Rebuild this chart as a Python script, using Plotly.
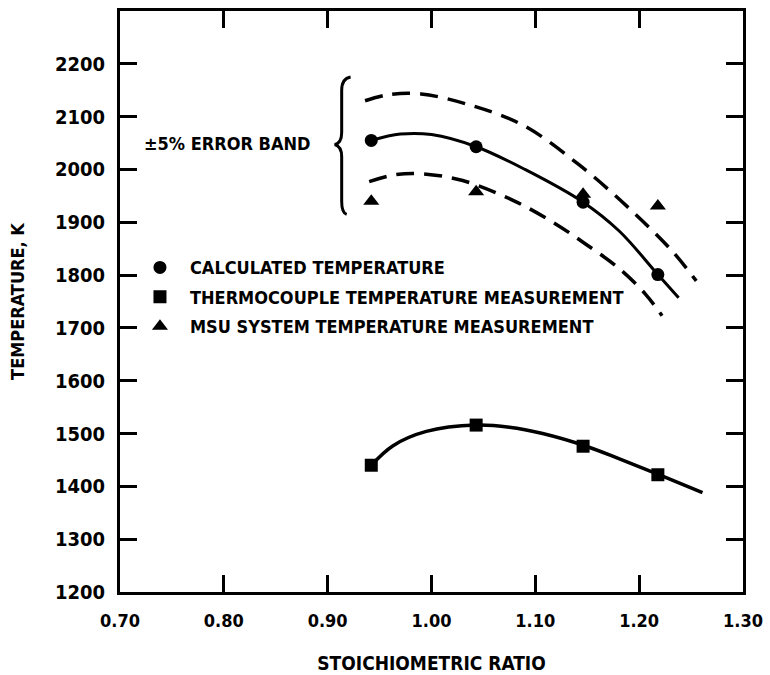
import plotly.graph_objects as go

# Measured / calculated points at each stoichiometric ratio
ratio = [0.942, 1.043, 1.146, 1.218]
calc_temp = [2055, 2043, 1938, 1801]
thermo_temp = [1440, 1516, 1476, 1422]
msu_temp = [1940, 1958, 1953, 1931]

# Faired curve through the calculated temperatures
calc_curve_x = [0.942, 0.970, 1.000, 1.043, 1.090, 1.146, 1.181, 1.218, 1.238]
calc_curve_y = [2055, 2067, 2066, 2043, 2000, 1938, 1883, 1801, 1757]

# +5 % band
upper_x = [0.936, 0.960, 0.990, 1.037, 1.088, 1.142, 1.190, 1.232, 1.255]
upper_y = [2130, 2142, 2143, 2122, 2084, 2009, 1927, 1845, 1789]

# -5 % band
lower_x = [0.940, 0.965, 0.990, 1.030, 1.078, 1.117, 1.149, 1.181, 1.206, 1.222]
lower_y = [1977, 1990, 1992, 1979, 1942, 1900, 1858, 1812, 1764, 1723]

# Faired curve through the thermocouple readings
thermo_curve_x = [0.942, 0.963, 0.995, 1.043, 1.075, 1.107, 1.149, 1.181, 1.219, 1.261]
thermo_curve_y = [1440, 1477, 1504, 1516, 1512, 1500, 1476, 1452, 1422, 1388]

x_ticks = [0.70, 0.80, 0.90, 1.00, 1.10, 1.20, 1.30]
x_tick_text = ["0.70", "0.80", "0.90", "1.00", "1.10", "1.20", "1.30"]
y_ticks = [1200, 1300, 1400, 1500, 1600, 1700, 1800, 1900, 2000, 2100, 2200]
y_tick_text = [str(v) for v in y_ticks]

FONT = "DejaVu Sans Condensed, Liberation Sans Narrow, DejaVu Sans, sans-serif"
INK = "black"

fig = go.Figure()

fig.add_trace(go.Scatter(x=upper_x, y=upper_y, mode="lines", showlegend=False,
                         line=dict(color=INK, width=3.5, dash="18px,10px", shape="spline")))
fig.add_trace(go.Scatter(x=lower_x, y=lower_y, mode="lines", showlegend=False,
                         line=dict(color=INK, width=3.5, dash="18px,10px", shape="spline")))
fig.add_trace(go.Scatter(x=calc_curve_x, y=calc_curve_y, mode="lines", showlegend=False,
                         line=dict(color=INK, width=3, shape="spline")))
fig.add_trace(go.Scatter(x=thermo_curve_x, y=thermo_curve_y, mode="lines", showlegend=False,
                         line=dict(color=INK, width=3.5, shape="spline")))

fig.add_trace(go.Scatter(x=ratio, y=calc_temp, mode="markers", name="CALCULATED TEMPERATURE",
                         legendgroup="a",
                         marker=dict(symbol="circle", size=13, color=INK)))
fig.add_trace(go.Scatter(x=ratio, y=thermo_temp, mode="markers",
                         name="THERMOCOUPLE TEMPERATURE MEASUREMENT", legendgroup="b",
                         marker=dict(symbol="square", size=13, color=INK)))
fig.add_trace(go.Scatter(x=ratio, y=msu_temp, mode="markers",
                         name="MSU SYSTEM TEMPERATURE MEASUREMENT", legendgroup="c",
                         marker=dict(symbol="triangle-up", size=14, color=INK)))

# Brace grouping the error band
fig.add_shape(type="path", xref="x", yref="y",
              path=("M 0.9221,2175 Q 0.9135,2172 0.9135,2150 L 0.9135,2070 "
                    "Q 0.9135,2050 0.9067,2047 Q 0.9135,2044 0.9135,2024 "
                    "L 0.9135,1940 Q 0.9135,1918 0.9183,1915"),
              line=dict(color=INK, width=3))

fig.add_annotation(x=0.308, xref="paper", y=2049, yref="y", xanchor="right", yanchor="middle",
                   text="±5% ERROR BAND", showarrow=False,
                   font=dict(family=FONT, size=18, color=INK, weight="bold"))

axis_common = dict(
    showgrid=False, zeroline=False, showline=True, linewidth=3, linecolor=INK,
    mirror="ticks", ticks="inside", ticklen=17, tickwidth=3, tickcolor=INK,
    automargin=False,
)

fig.update_xaxes(
    range=[0.70, 1.30], tickvals=x_ticks, ticktext=x_tick_text,
    tickfont=dict(family=FONT, size=18, color=INK, weight="bold"),
    ticklabelstandoff=10,
    title=dict(text="STOICHIOMETRIC RATIO", standoff=28,
               font=dict(family=FONT, size=19, color=INK, weight="bold")),
    **axis_common,
)
fig.update_yaxes(
    range=[1200, 2300], tickvals=y_ticks, ticktext=y_tick_text,
    tickfont=dict(family=FONT, size=20, color=INK, weight="bold"),
    ticklabelstandoff=8,
    title=dict(text="TEMPERATURE, K", standoff=26,
               font=dict(family=FONT, size=18, color=INK, weight="bold")),
    **axis_common,
)

fig.update_layout(
    width=770, height=675,
    margin=dict(l=120, r=27, t=11, b=83),
    paper_bgcolor="white", plot_bgcolor="white",
    legend=dict(x=0.016, y=0.59, xanchor="left", yanchor="top",
                bgcolor="rgba(0,0,0,0)", itemwidth=50, tracegroupgap=3,
                font=dict(family=FONT, size=18, color=INK, weight="bold")),
)

fig.write_html("out.html")
